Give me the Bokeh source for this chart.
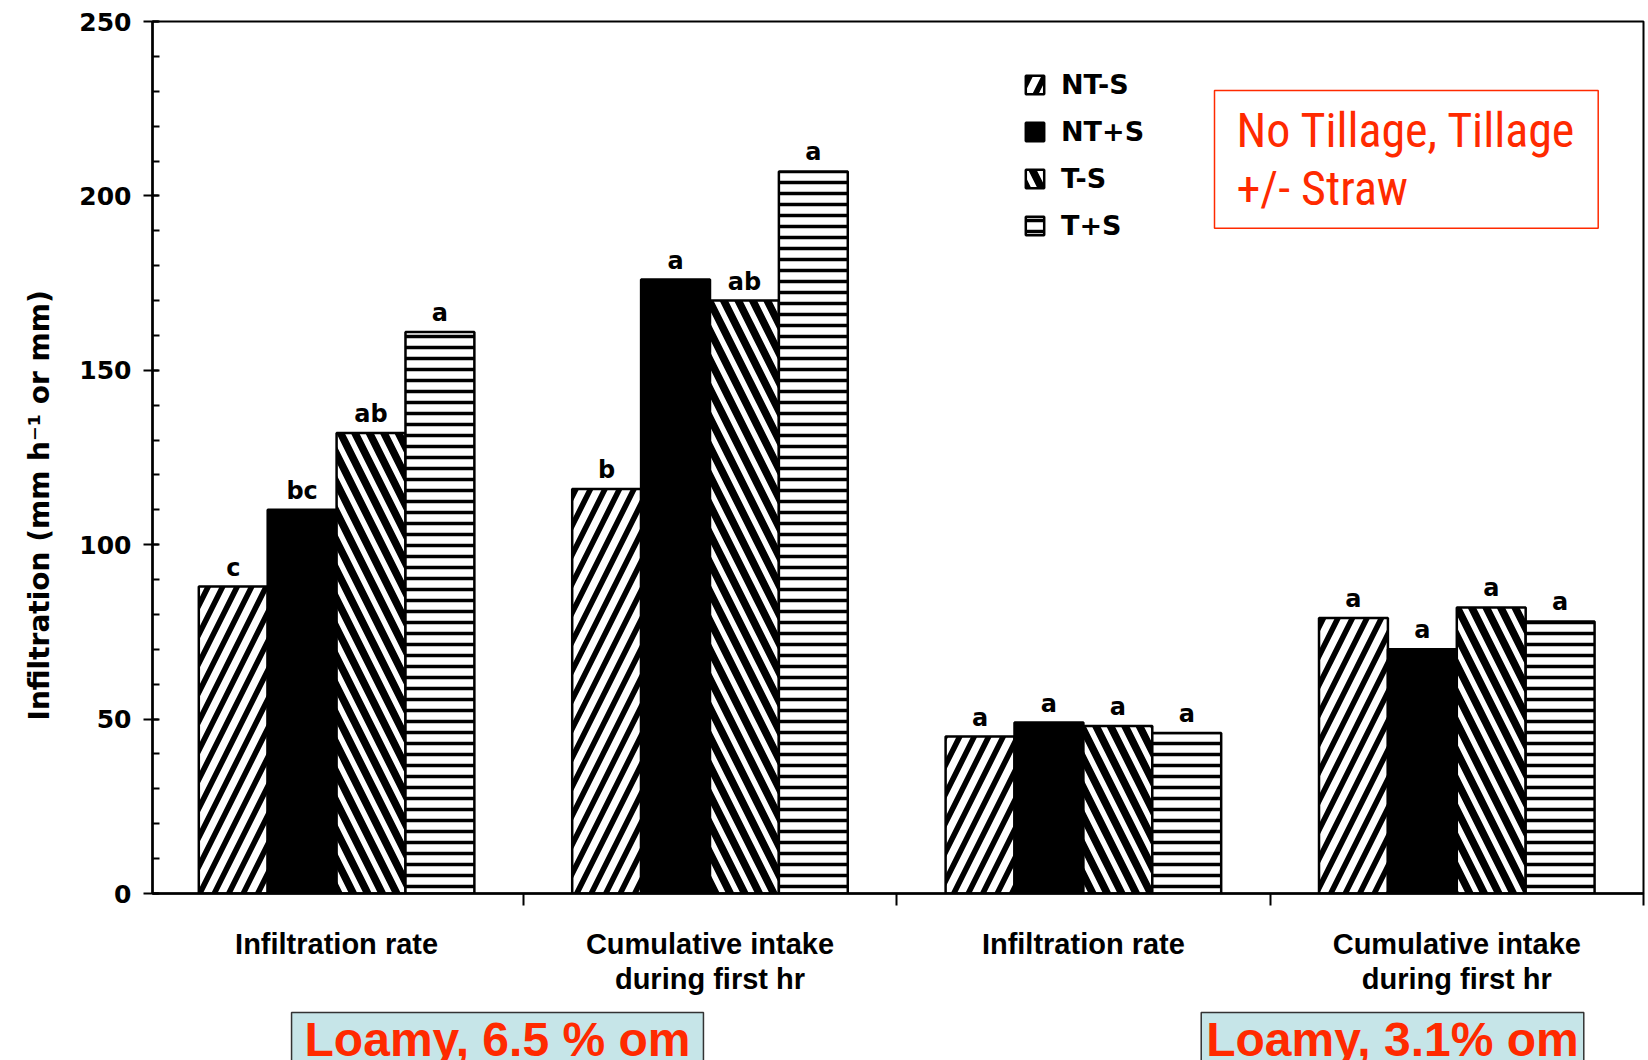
from bokeh.plotting import figure
from bokeh.models import ColumnDataSource, FixedTicker, Legend, LegendItem, Label, Title
from bokeh.layouts import column
from bokeh.transform import dodge
from bokeh.core.properties import value
from bokeh.embed import file_html
from bokeh.resources import INLINE

# ---------------- data ----------------
groups = [1, 2, 3, 4]
group_labels = ["Infiltration rate", "Cumulative intake\nduring first hr",
                "Infiltration rate", "Cumulative intake\nduring first hr"]
treatments = ["NT-S", "NT+S", "T-S", "T+S"]
nt_minus_s = [88, 116, 45, 79]
nt_plus_s = [110, 176, 49, 70]
t_minus_s = [132, 170, 48, 82]
t_plus_s = [161, 207, 46, 78]
sig_nt_minus_s = ["c", "b", "a", "a"]
sig_nt_plus_s = ["bc", "a", "a", "a"]
sig_t_minus_s = ["ab", "ab", "a", "a"]
sig_t_plus_s = ["a", "a", "a", "a"]
y_ticks = [0, 50, 100, 150, 200, 250]
y_minor = list(range(0, 251, 10))
boundaries = [1.5, 2.5, 3.5, 4.5]
soil_labels = ["Loamy, 6.5 % om", "Loamy, 3.1% om"]
note_text = "No Tillage, Tillage\n+/- Straw"
y_title = "Infiltration (mm h\u207b\u00b9 or mm)"

src = ColumnDataSource(dict(
    group=groups,
    nts=nt_minus_s, ntps=nt_plus_s, ts=t_minus_s, tps=t_plus_s,
    s_nts=sig_nt_minus_s, s_ntps=sig_nt_plus_s, s_ts=sig_t_minus_s, s_tps=sig_t_plus_s,
))

BAR_W = 0.1845
RED = "#ff2a00"
SCAN = "DejaVu Sans"

p = figure(width=1648, height=1004, x_range=(0.507, 4.5), y_range=(0, 250),
           output_backend="svg", toolbar_location=None,
           min_border_left=151, min_border_right=5, min_border_top=21,
           min_border_bottom=111)
p.xgrid.visible = False
p.ygrid.visible = False
p.outline_line_color = "black"
p.outline_line_width = 2

# y axis
ya = p.yaxis[0]
ya.ticker = FixedTicker(ticks=y_ticks, minor_ticks=y_minor)
ya.axis_line_width = 2.5
ya.major_tick_in = 6
ya.major_tick_out = 9
ya.minor_tick_in = 7
ya.minor_tick_out = 0
ya.major_tick_line_width = 2
ya.minor_tick_line_width = 2
ya.major_label_text_font = SCAN
ya.major_label_text_font_style = "bold"
ya.major_label_text_font_size = "25px"
ya.major_label_text_color = "black"
ya.major_label_standoff = 12

# y axis title (a left-side title so it can sit lower, as in the original)
yt = Title(text=y_title, align="left", offset=173, text_font=SCAN,
           text_font_style="bold", text_font_size="28px", text_color="black",
           standoff=41)
p.add_layout(yt, "left")

# x axis
xa = p.xaxis[0]
xa.ticker = FixedTicker(ticks=groups, minor_ticks=boundaries)
xa.major_label_overrides = {g: lab for g, lab in zip(groups, group_labels)}
xa.axis_line_width = 2.5
xa.major_tick_in = 0
xa.major_tick_out = 0
xa.minor_tick_in = 0
xa.minor_tick_out = 12
xa.minor_tick_line_width = 2
xa.major_label_standoff = 22
xa.major_label_text_font = "Liberation Sans"
xa.major_label_text_font_style = "bold"
xa.major_label_text_font_size = "29px"
xa.major_label_text_color = "black"
xa.major_label_text_line_height = 1.1

styles = [
    dict(fill_color="white", hatch_pattern="right_diagonal_line", hatch_scale=29,
         hatch_weight=5.5, hatch_color="black"),
    dict(fill_color="black"),
    dict(fill_color="white", hatch_pattern="left_diagonal_line", hatch_scale=29,
         hatch_weight=7.5, hatch_color="black"),
    dict(fill_color="white", hatch_pattern="horizontal_line", hatch_scale=11,
         hatch_weight=3.5, hatch_color="black"),
]
cols = ["nts", "ntps", "ts", "tps"]
sigs = ["s_nts", "s_ntps", "s_ts", "s_tps"]
offsets = [-1.5, -0.5, 0.5, 1.5]

items = []
for name, col, sig, off, st in zip(treatments, cols, sigs, offsets, styles):
    r = p.vbar(x=dodge("group", off * BAR_W), top=col, width=BAR_W, source=src,
               line_color="black", line_width=2.5, **st)
    p.text(x=dodge("group", off * BAR_W), y=col, text=sig, source=src,
           text_align="center", text_baseline="alphabetic", y_offset=-19,
           text_font=value(SCAN), text_font_style="bold", text_font_size="24px",
           text_color="black")
    items.append(LegendItem(label=name, renderers=[r]))

legend = Legend(items=items, location=(871, 652), glyph_width=23, glyph_height=23,
                label_standoff=15, spacing=16, padding=0, margin=0,
                border_line_color=None, background_fill_alpha=0,
                label_text_font=SCAN, label_text_font_style="bold",
                label_text_font_size="27px", label_text_color="black")
p.add_layout(legend)

note = Label(x=1062, y=803, x_units="screen", y_units="screen", text=note_text,
             text_align="left", text_baseline="top", text_color=RED,
             text_font="Roboto Condensed, DejaVu Sans Condensed, Roboto",
             text_font_size="48px",
             text_line_height=1.03, border_line_color=RED, border_line_width=1.5,
             padding=(22, 11))
p.add_layout(note)

# strip below the chart holding the two soil captions (its frame is aligned
# with the chart frame by the column layout)
p2 = figure(width=1648, height=56, x_range=(0, 1), y_range=(0, 1),
            output_backend="svg", toolbar_location=None,
            x_axis_location=None, y_axis_location=None,
            min_border_left=0, min_border_right=0, min_border_top=0,
            min_border_bottom=0)
p2.xgrid.visible = False
p2.ygrid.visible = False
p2.outline_line_color = None

soil_x = [345, 1240]
soil_pad = [(13, 0), (5, 0)]
for sx, txt, pad in zip(soil_x, soil_labels, soil_pad):
    lab = Label(x=sx, y=48, x_units="screen", y_units="screen", text=txt,
                text_align="center", text_baseline="top", text_color=RED,
                text_font="Liberation Sans", text_font_style="bold",
                text_font_size="48px", background_fill_color="#c6e5e8",
                border_line_color="#333333", border_line_width=1.5, padding=pad)
    p2.add_layout(lab)

layout = column(p, p2, spacing=0)
open("out.html", "w").write(file_html(layout, INLINE))
